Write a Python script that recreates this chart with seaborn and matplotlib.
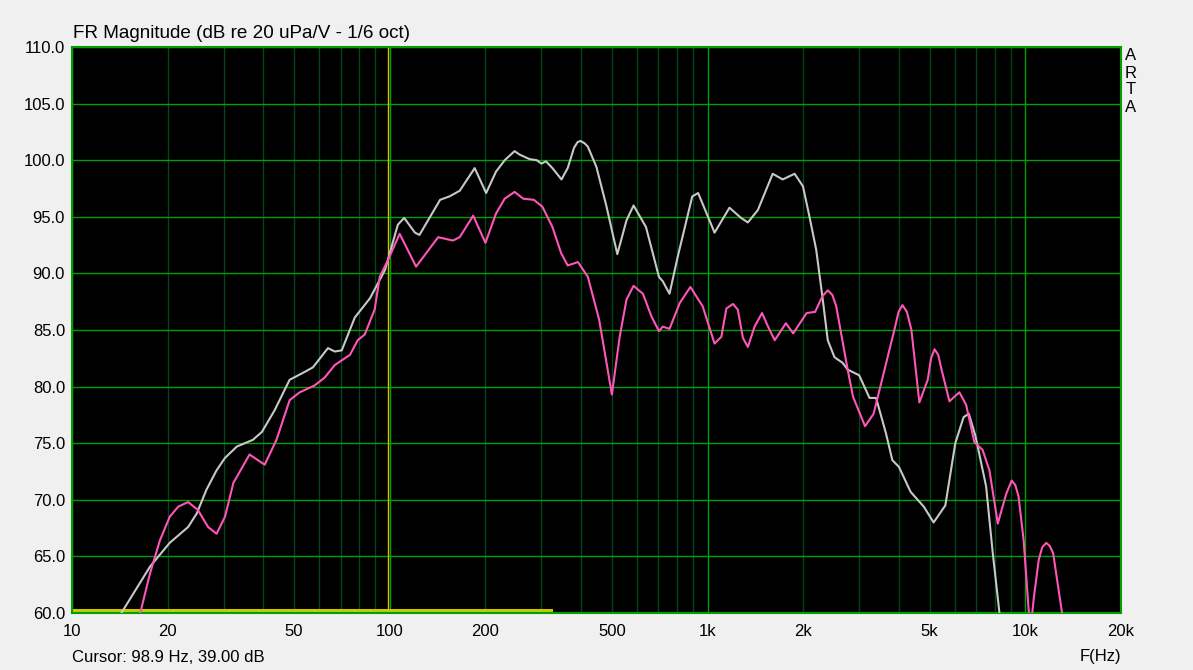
import numpy as np
import pandas as pd
import matplotlib
matplotlib.use('Agg')
import matplotlib.pyplot as plt
import seaborn as sns

# 灰色曲线 (频率 Hz, dB)
gray_f = [13.8, 14.3, 17.6, 20.3, 23.2, 24.7, 26.5, 28.5, 30.3, 33.0, 37.1, 39.6, 43.4, 48.4,
          54.0, 57.3, 63.9, 67.1, 70.6, 77.6, 86.6, 96.6, 106, 111, 120, 124, 144, 154, 166,
          185, 201, 216, 230, 247, 256, 275, 290, 300, 310, 325, 347, 363, 380, 390, 398, 410, 420,
          447, 480, 520, 556, 585, 640, 703, 723, 759, 806, 895, 934, 1052, 1172, 1275,
          1339, 1440, 1603, 1724, 1879, 1996, 2093, 2197, 2304, 2389, 2508, 2660, 2760,
          3000, 3233, 3391, 3640, 3815, 4003, 4355, 4790, 5145, 5600, 6020, 6393, 6640,
          6972, 7524, 7897, 8290, 8450]
gray_db = [59.0, 60.0, 64.1, 66.2, 67.6, 68.8, 70.9, 72.6, 73.7, 74.7, 75.3, 76.0, 77.9, 80.6,
           81.3, 81.7, 83.4, 83.1, 83.2, 86.1, 87.8, 90.3, 94.3, 94.9, 93.6, 93.4, 96.5, 96.8, 97.3,
           99.3, 97.1, 99.0, 100.0, 100.8, 100.5, 100.1, 100.0, 99.7, 99.9, 99.3, 98.3, 99.3, 101.1, 101.6, 101.7, 101.5, 101.2,
           99.4, 96.0, 91.7, 94.7, 96.0, 94.1, 89.7, 89.3, 88.2, 91.5, 96.8, 97.1, 93.6, 95.8, 94.9,
           94.5, 95.6, 98.8, 98.3, 98.8, 97.7, 95.0, 92.1, 87.7, 84.1, 82.6, 82.1, 81.5,
           81.0, 79.0, 79.0, 75.9, 73.5, 72.9, 70.7, 69.4, 68.0, 69.5, 75.0, 77.3, 77.6,
           75.6, 71.2, 65.3, 60.0, 57.0]

# 粉色曲线
pink_f = [16.0, 16.4, 17.6, 18.9, 20.3, 21.6, 23.2, 24.9, 26.8, 28.5, 30.3, 32.2, 36.2, 40.4,
          44.0, 48.4, 52.1, 58.0, 62.4, 67.1, 74.9, 79.3, 83.4, 89.6, 93.0, 98.8, 107.4, 121,
          142, 158, 166, 183, 200, 216, 230, 247, 263, 284, 302, 325, 346, 363, 391, 420, 456,
          500, 529, 556, 585, 626, 666, 703, 723, 759, 818, 883, 965, 1052, 1105, 1146, 1202,
          1245, 1292, 1339, 1406, 1484, 1550, 1627, 1764, 1860, 2050, 2180, 2300, 2390, 2470, 2540, 2760,
          2870, 3130, 3330, 3540, 3870, 3990, 4105, 4240, 4380, 4640, 4930, 5050, 5180, 5320, 5450,
          5770, 6200, 6510, 6910, 7340, 7710, 8190, 8700, 9060, 9300, 9520, 9880, 10260, 10380,
          10650, 11020, 11300, 11640, 11950, 12230, 13000, 13200]
pink_db = [58.5, 60.0, 63.5, 66.4, 68.5, 69.4, 69.8, 69.1, 67.6, 67.0, 68.5, 71.5, 74.0, 73.1,
           75.3, 78.8, 79.5, 80.1, 80.8, 81.9, 82.8, 84.1, 84.6, 86.8, 89.7, 91.2, 93.5, 90.6,
           93.2, 92.9, 93.2, 95.1, 92.7, 95.3, 96.6, 97.2, 96.6, 96.5, 95.9, 94.1, 91.8, 90.7, 91.0, 89.7, 85.9,
           79.3, 84.4, 87.7, 88.9, 88.2, 86.2, 84.9, 85.3, 85.1, 87.4, 88.8, 87.1, 83.8, 84.4, 86.9, 87.3,
           86.8, 84.3, 83.5, 85.3, 86.5, 85.3, 84.1, 85.6, 84.7, 86.5, 86.6, 88.0, 88.5, 88.1, 87.1, 81.5,
           79.1, 76.5, 77.6, 80.6, 85.0, 86.6, 87.2, 86.6, 85.0, 78.6, 80.6, 82.5, 83.3, 82.8, 81.5,
           78.7, 79.5, 78.4, 75.1, 74.4, 72.6, 67.9, 70.5, 71.7, 71.3, 70.3, 66.4, 60.0, 58.5,
           61.5, 64.7, 65.8, 66.2, 65.9, 65.3, 60.3, 59.0]

x_ticks = [10, 20, 50, 100, 200, 500, 1000, 2000, 5000, 10000, 20000]
x_labels = ['10', '20', '50', '100', '200', '500', '1k', '2k', '5k', '10k', '20k']
y_ticks = [60, 65, 70, 75, 80, 85, 90, 95, 100, 105, 110]
decades = [10, 100, 1000, 10000]
minor_lines = [m * d for d in [10, 100, 1000] for m in range(2, 10)]

cursor_hz = 98.9
marker_level = 60.3
marker_end_hz = 322

gray_df = pd.DataFrame({'f': gray_f, 'db': gray_db})
pink_df = pd.DataFrame({'f': pink_f, 'db': pink_db})

plt.rcParams['font.family'] = ['Liberation Sans', 'DejaVu Sans']

fig = plt.figure(figsize=(11.93, 6.70), dpi=100, facecolor='#f0f0f0')
ax = fig.add_axes([72 / 1193, 57 / 670, 1049 / 1193, 566 / 670])
ax.set_facecolor('black')
ax.set_xscale('log')

bright = '#00a000'
dark = '#00461a'
for v in minor_lines:
    ax.axvline(v, color=dark, lw=1.0, zorder=1)
for v in decades:
    ax.axvline(v, color=bright, lw=1.0, zorder=1)
for v in y_ticks:
    ax.axhline(v, color=bright, lw=1.0, zorder=1)

# 游标
ax.axvline(cursor_hz, color='#c8c800', lw=1.0, zorder=2)
ax.plot([10, marker_end_hz], [marker_level, marker_level], color='#c8c800', lw=2.2, zorder=2)

sns.lineplot(data=gray_df, x='f', y='db', ax=ax, color='#c8c8c8', lw=1.5,
             sort=False, estimator=None, zorder=3)
sns.lineplot(data=pink_df, x='f', y='db', ax=ax, color='#ff55b8', lw=1.5,
             sort=False, estimator=None, zorder=4)

ax.set_xlim(10, 20000)
ax.set_ylim(60, 110)
ax.set_xticks(x_ticks)
ax.set_xticklabels(x_labels)
ax.xaxis.set_minor_locator(matplotlib.ticker.NullLocator())
ax.set_yticks(y_ticks)
ax.set_yticklabels([f'{v:.1f}' for v in y_ticks])
ax.tick_params(axis='both', length=0, labelsize=12)
ax.tick_params(axis='x', pad=8)
ax.tick_params(axis='y', pad=5)
ax.set_xlabel('')
ax.set_ylabel('')
for s in ax.spines.values():
    s.set_color('#00a000')
    s.set_linewidth(1.5)

fig.text(73 / 1193, 1 - 33 / 670, 'FR Magnitude (dB re 20 uPa/V - 1/6 oct)',
         fontsize=13.6, ha='left', va='center')
fig.text(72 / 1193, 1 - 657 / 670, 'Cursor: 98.9 Hz, 39.00 dB', fontsize=12, ha='left', va='center')
fig.text(1100 / 1193, 1 - 657 / 670, 'F(Hz)', fontsize=12, ha='center', va='center')
for i, ch in enumerate('ARTA'):
    fig.text(1131 / 1193, 1 - (56 + 17 * i) / 670, ch, fontsize=12, ha='center', va='center')

fig.savefig('out.png', dpi=100, facecolor=fig.get_facecolor())
